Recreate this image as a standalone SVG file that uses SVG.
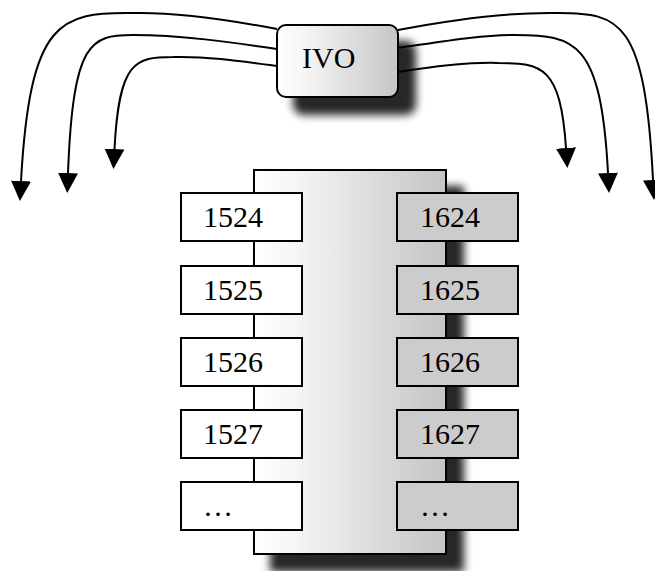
<svg xmlns="http://www.w3.org/2000/svg" width="655" height="571" viewBox="0 0 655 571">
  <style>
    .wire { fill: none; stroke: #000; stroke-width: 2; marker-end: url(#head); }
    .cell { stroke: #000; stroke-width: 2; }
    .lo { fill: #fff; }
    .hi { fill: #cccccc; }
    .lbl { font-family: "Liberation Serif", "Times New Roman", serif; font-size: 30px; fill: #000; }
  </style>
  <defs>
    <marker id="head" markerUnits="userSpaceOnUse" markerWidth="20" markerHeight="20" viewBox="0 0 20 20" refX="0" refY="10" orient="auto">
      <path d="M0,0 L20,10 L0,20 z" fill="#000"/>
    </marker>
    <linearGradient id="panelFill" x1="0" y1="0" x2="1" y2="0">
      <stop offset="0" stop-color="#ffffff"/>
      <stop offset="0.2" stop-color="#f6f6f6"/>
      <stop offset="1" stop-color="#c4c4c4"/>
    </linearGradient>
    <linearGradient id="ivoFill" x1="0" y1="0" x2="1" y2="0">
      <stop offset="0" stop-color="#ffffff"/>
      <stop offset="0.25" stop-color="#f4f4f4"/>
      <stop offset="1" stop-color="#c6c6c6"/>
    </linearGradient>
    <filter id="drop" x="-20%" y="-20%" width="160%" height="160%">
      <feGaussianBlur in="SourceAlpha" stdDeviation="4.5"/>
      <feOffset dx="17" dy="17" result="sh"/>
      <feComponentTransfer in="sh" result="sh2">
        <feFuncA type="linear" slope="0.85"/>
      </feComponentTransfer>
      <feMerge>
        <feMergeNode in="sh2"/>
        <feMergeNode in="SourceGraphic"/>
      </feMerge>
    </filter>
  </defs>

  <!-- outgoing connectors -->
  <g id="connectors">
    <path class="wire" d="M277,29 C230,20 180,12 133,13 C60,12 30,20 21,181"/>
    <path class="wire" d="M277,49 C230,42 180,35 133,35 C91,35 73,40.5 68,173"/>
    <path class="wire" d="M277,66 C240,61 205,56 173,57 C135,57 119,61 114.5,149"/>
    <path class="wire" d="M398,30 C450,20 510,12 558,13 C620,13 645,20 653,180"/>
    <path class="wire" d="M398,48 C440,42 480,35 515,35 C575,35 601,40.5 608,173"/>
    <path class="wire" d="M398,72 C430,67 470,62 498,63 C542,63 560.5,66.4 566,148"/>
  </g>

  <!-- source node -->
  <g id="ivo">
    <rect x="277" y="25" width="121" height="72" rx="9" ry="9" fill="url(#ivoFill)" stroke="#000" stroke-width="2" filter="url(#drop)"/>
    <text class="lbl" x="302" y="68">IVO</text>
  </g>

  <!-- backing column -->
  <g id="column">
    <rect x="254" y="170" width="192" height="384" fill="url(#panelFill)" stroke="#000" stroke-width="2" filter="url(#drop)"/>
  </g>

  <!-- left cells -->
  <g id="cell-1524"><rect class="cell lo" x="181" y="193" width="121" height="48"/><text class="lbl" x="203" y="227">1524</text></g>
  <g id="cell-1525"><rect class="cell lo" x="181" y="266" width="121" height="48"/><text class="lbl" x="203" y="300">1525</text></g>
  <g id="cell-1526"><rect class="cell lo" x="181" y="338" width="121" height="48"/><text class="lbl" x="203" y="372">1526</text></g>
  <g id="cell-1527"><rect class="cell lo" x="181" y="410" width="121" height="48"/><text class="lbl" x="203" y="444">1527</text></g>
  <g id="cell-left-more"><rect class="cell lo" x="181" y="482" width="121" height="48"/><text class="lbl" x="203" y="516">…</text></g>

  <!-- right cells -->
  <g id="cell-1624"><rect class="cell hi" x="397" y="193" width="121" height="48"/><text class="lbl" x="420" y="227">1624</text></g>
  <g id="cell-1625"><rect class="cell hi" x="397" y="266" width="121" height="48"/><text class="lbl" x="420" y="300">1625</text></g>
  <g id="cell-1626"><rect class="cell hi" x="397" y="338" width="121" height="48"/><text class="lbl" x="420" y="372">1626</text></g>
  <g id="cell-1627"><rect class="cell hi" x="397" y="410" width="121" height="48"/><text class="lbl" x="420" y="444">1627</text></g>
  <g id="cell-right-more"><rect class="cell hi" x="397" y="482" width="121" height="48"/><text class="lbl" x="420" y="516">…</text></g>
</svg>
